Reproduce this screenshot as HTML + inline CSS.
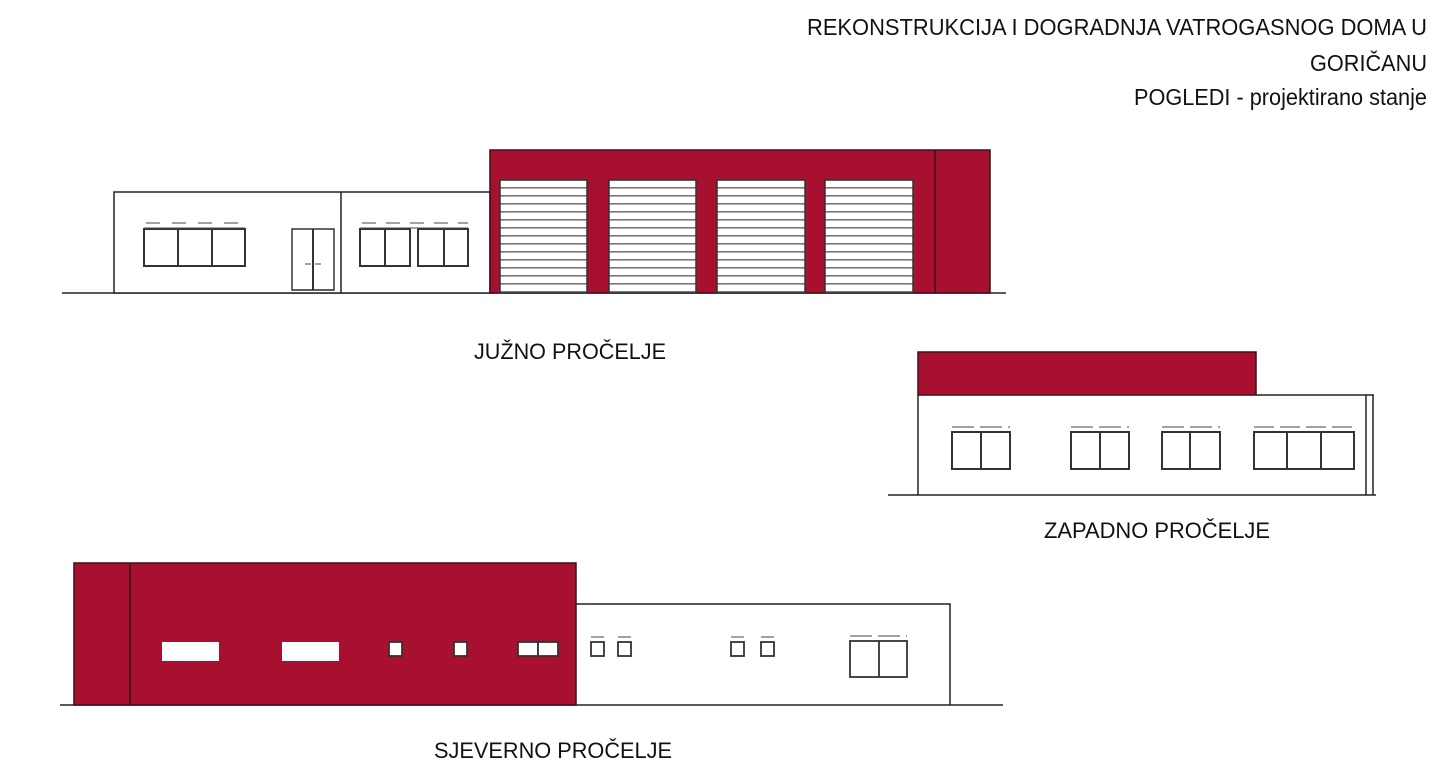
<!DOCTYPE html>
<html><head><meta charset="utf-8"><style>
html,body{margin:0;padding:0;background:#fff;width:1449px;height:779px;overflow:hidden}
text{font-family:"Liberation Sans",sans-serif;fill:#111}
</style></head><body>
<svg width="1449" height="779" viewBox="0 0 1449 779" xmlns="http://www.w3.org/2000/svg">
<defs>
<pattern id="sl" x="0" y="181" width="10" height="8" patternUnits="userSpaceOnUse">
<rect width="10" height="8" fill="#fff"/><rect y="6" width="10" height="1.6" fill="#777"/>
</pattern>
</defs>
<!-- title -->
<text x="1427" y="35" font-size="23" text-anchor="end" textLength="620" lengthAdjust="spacingAndGlyphs">REKONSTRUKCIJA I DOGRADNJA VATROGASNOG DOMA U</text>
<text x="1427" y="71" font-size="23" text-anchor="end" textLength="117" lengthAdjust="spacingAndGlyphs">GORIČANU</text>
<text x="1427" y="105" font-size="23" text-anchor="end" textLength="293" lengthAdjust="spacingAndGlyphs">POGLEDI - projektirano stanje</text>

<g stroke="#222" stroke-width="1.5" fill="none">
<!-- SOUTH -->
<line x1="62" y1="293" x2="1006" y2="293"/>
<rect x="114" y="192" width="376" height="101" fill="#fff"/>
<line x1="341" y1="192" x2="341" y2="293"/>
<rect x="490" y="150" width="500" height="143" fill="#a81030" stroke="#3a1018"/>
<line x1="935" y1="150" x2="935" y2="293" stroke="#3a1018"/>
<g stroke="#333" stroke-width="1.5">
<rect x="500" y="180" width="87" height="113" fill="url(#sl)"/>
<rect x="609" y="180" width="87" height="113" fill="url(#sl)"/>
<rect x="717" y="180" width="88" height="113" fill="url(#sl)"/>
<rect x="825" y="180" width="88" height="113" fill="url(#sl)"/>
</g>
<g stroke="#333" stroke-width="2">
<rect x="144" y="229" width="101" height="37"/><line x1="178" y1="229" x2="178" y2="266"/><line x1="212" y1="229" x2="212" y2="266"/>
<rect x="360" y="229" width="50" height="37"/><line x1="385" y1="229" x2="385" y2="266"/>
<rect x="418" y="229" width="50" height="37"/><line x1="444" y1="229" x2="444" y2="266"/>
<rect x="292" y="229" width="42" height="61" stroke-width="1.5"/><line x1="313" y1="229" x2="313" y2="290"/>
</g>
<line x1="292" y1="290" x2="334" y2="290" stroke-width="1"/>
<g stroke-width="1" stroke="#444">
<line x1="144" y1="228" x2="245" y2="228"/><line x1="360" y1="228" x2="468" y2="228"/>
<line x1="146" y1="223" x2="245" y2="223" stroke-dasharray="14,12"/>
<line x1="362" y1="223" x2="468" y2="223" stroke-dasharray="14,10"/>
<line x1="305" y1="264" x2="311" y2="264"/><line x1="315" y1="264" x2="321" y2="264"/>
</g>

<!-- WEST -->
<line x1="888" y1="495" x2="1376" y2="495"/>
<rect x="918" y="352" width="338" height="43" fill="#a81030" stroke="#3a1018"/>
<polyline points="918,395 918,495"/>
<polyline points="1256,395 1374,395"/>
<line x1="1366" y1="395" x2="1366" y2="495"/><line x1="1373" y1="395" x2="1373" y2="495"/>
<g stroke="#333" stroke-width="2">
<rect x="952" y="432" width="58" height="37"/><line x1="981" y1="432" x2="981" y2="469"/>
<rect x="1071" y="432" width="58" height="37"/><line x1="1100" y1="432" x2="1100" y2="469"/>
<rect x="1162" y="432" width="58" height="37"/><line x1="1190" y1="432" x2="1190" y2="469"/>
<rect x="1254" y="432" width="100" height="37"/><line x1="1287" y1="432" x2="1287" y2="469"/><line x1="1321" y1="432" x2="1321" y2="469"/>
</g>
<g stroke-width="1" stroke="#444">
<line x1="952" y1="427" x2="1010" y2="427" stroke-dasharray="22,6"/>
<line x1="1071" y1="427" x2="1129" y2="427" stroke-dasharray="22,6"/>
<line x1="1162" y1="427" x2="1220" y2="427" stroke-dasharray="22,6"/>
<line x1="1254" y1="427" x2="1354" y2="427" stroke-dasharray="20,6"/>
</g>

<!-- NORTH -->
<line x1="60" y1="705" x2="1003" y2="705"/>
<rect x="74" y="563" width="502" height="142" fill="#a81030" stroke="#3a1018"/>
<line x1="130" y1="563" x2="130" y2="705" stroke="#3a1018"/>
<polyline points="576,604 950,604 950,705"/>
<rect x="162" y="642" width="57" height="19" fill="#fff" stroke="none"/>
<rect x="282" y="642" width="57" height="19" fill="#fff" stroke="none"/>
<g stroke="#333" stroke-width="1.8">
<rect x="389" y="642" width="13" height="14" fill="#fff"/>
<rect x="454" y="642" width="13" height="14" fill="#fff"/>
<rect x="518" y="642" width="20" height="14" fill="#fff"/><rect x="538" y="642" width="20" height="14" fill="#fff"/>
<rect x="591" y="642" width="13" height="14"/><rect x="618" y="642" width="13" height="14"/>
<rect x="731" y="642" width="13" height="14"/><rect x="761" y="642" width="13" height="14"/>
<rect x="850" y="641" width="57" height="36"/><line x1="879" y1="641" x2="879" y2="677"/>
</g>
<g stroke-width="1" stroke="#444">
<line x1="591" y1="637" x2="604" y2="637"/><line x1="618" y1="637" x2="631" y2="637"/>
<line x1="731" y1="637" x2="744" y2="637"/><line x1="761" y1="637" x2="774" y2="637"/>
<line x1="850" y1="636" x2="907" y2="636" stroke-dasharray="22,6"/>
</g>
</g>

<text x="570" y="359" font-size="22" text-anchor="middle" textLength="192" lengthAdjust="spacingAndGlyphs">JUŽNO PROČELJE</text>
<text x="1157" y="538" font-size="22" text-anchor="middle" textLength="226" lengthAdjust="spacingAndGlyphs">ZAPADNO PROČELJE</text>
<text x="553" y="758" font-size="22" text-anchor="middle" textLength="238" lengthAdjust="spacingAndGlyphs">SJEVERNO PROČELJE</text>
</svg>
</body></html>
